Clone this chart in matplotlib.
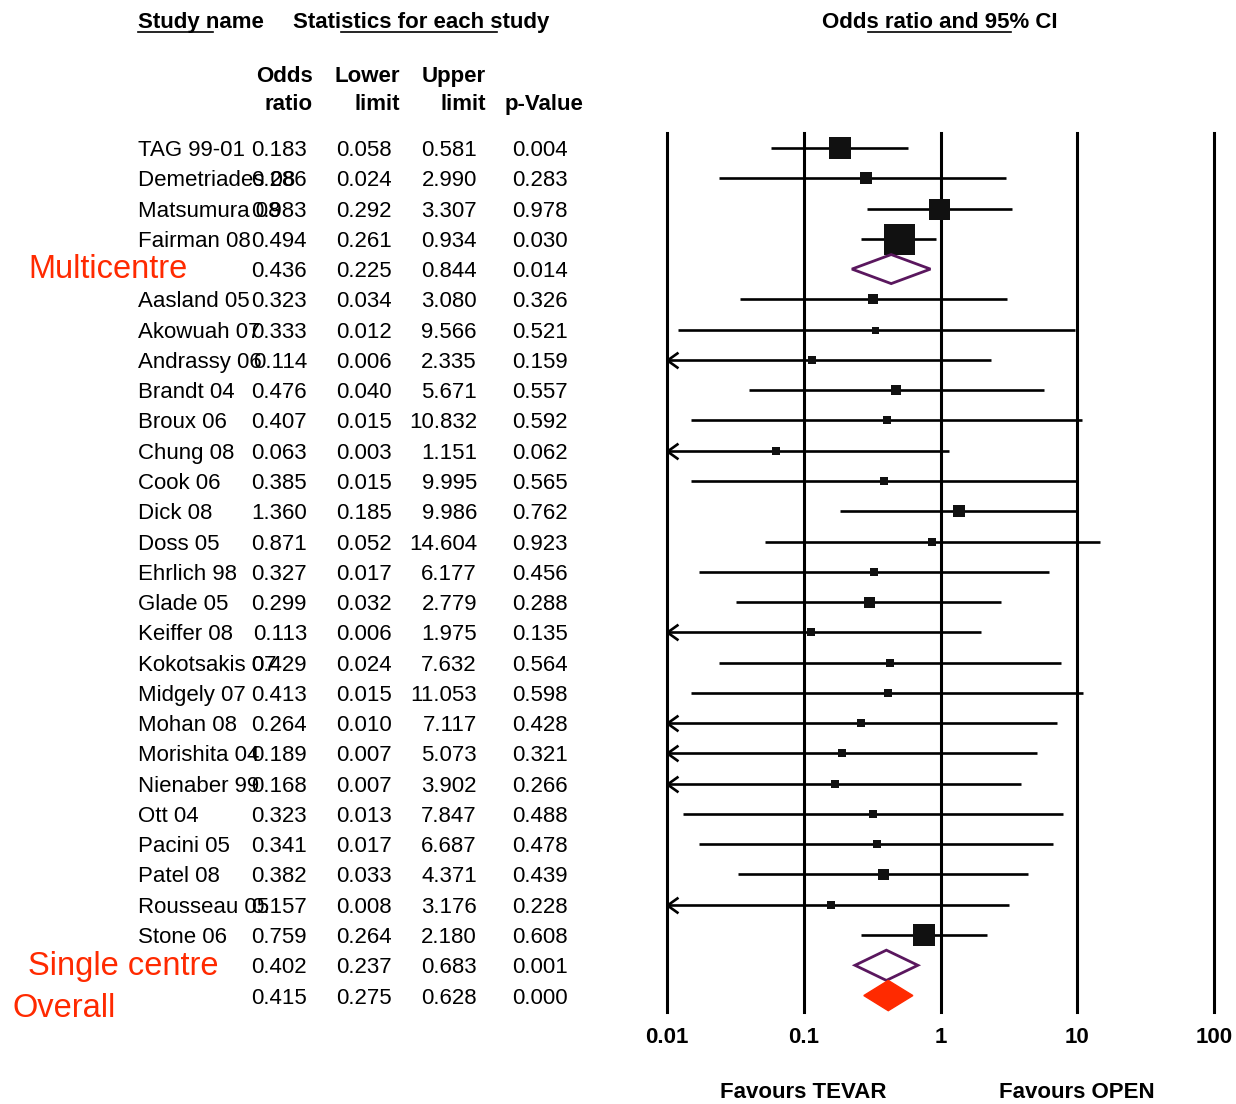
import matplotlib
matplotlib.use('Agg')
import matplotlib.pyplot as plt
from matplotlib.path import Path
from matplotlib.transforms import blended_transform_factory

plt.rcParams['font.family'] = ['Liberation Sans', 'DejaVu Sans']

# Study data (rows in display order; blank name = pooled row)
names = ['TAG 99-01', 'Demetriades 08', 'Matsumura 08', 'Fairman 08', '',
         'Aasland 05', 'Akowuah 07', 'Andrassy 06', 'Brandt 04', 'Broux 06',
         'Chung 08', 'Cook 06', 'Dick 08', 'Doss 05', 'Ehrlich 98', 'Glade 05',
         'Keiffer 08', 'Kokotsakis 07', 'Midgely 07', 'Mohan 08', 'Morishita 04',
         'Nienaber 99', 'Ott 04', 'Pacini 05', 'Patel 08', 'Rousseau 05',
         'Stone 06', '', '']
odds = [0.183, 0.286, 0.983, 0.494, 0.436, 0.323, 0.333, 0.114, 0.476, 0.407,
        0.063, 0.385, 1.360, 0.871, 0.327, 0.299, 0.113, 0.429, 0.413, 0.264,
        0.189, 0.168, 0.323, 0.341, 0.382, 0.157, 0.759, 0.402, 0.415]
lower = [0.058, 0.024, 0.292, 0.261, 0.225, 0.034, 0.012, 0.006, 0.040, 0.015,
         0.003, 0.015, 0.185, 0.052, 0.017, 0.032, 0.006, 0.024, 0.015, 0.010,
         0.007, 0.007, 0.013, 0.017, 0.033, 0.008, 0.264, 0.237, 0.275]
upper = [0.581, 2.990, 3.307, 0.934, 0.844, 3.080, 9.566, 2.335, 5.671, 10.832,
         1.151, 9.995, 9.986, 14.604, 6.177, 2.779, 1.975, 7.632, 11.053, 7.117,
         5.073, 3.902, 7.847, 6.687, 4.371, 3.176, 2.180, 0.683, 0.628]
pvals = [0.004, 0.283, 0.978, 0.030, 0.014, 0.326, 0.521, 0.159, 0.557, 0.592,
         0.062, 0.565, 0.762, 0.923, 0.456, 0.288, 0.135, 0.564, 0.598, 0.428,
         0.321, 0.266, 0.488, 0.478, 0.439, 0.228, 0.608, 0.001, 0.000]
# relative study weight -> square side in pixels
weights = [22, 12, 21, 31, 0, 10, 7, 8, 10, 8, 8, 8, 12, 8, 8, 11, 8, 8, 8, 8,
           8, 8, 8, 8, 11, 8, 22, 0, 0]

group_labels = ['Multicentre', 'Single centre', 'Overall']
group_rows = [4, 27, 28]

ticks = [0.01, 0.1, 1, 10, 100]
tick_labels = ['0.01', '0.1', '1', '10', '100']

RED = '#ff2a00'
PURPLE = '#5a175e'

W, H = 1236, 1104
fig = plt.figure(figsize=(W / 100, H / 100), dpi=100)

# Text table in pixel coordinates
tab = fig.add_axes([0, 0, 1, 1])
tab.set_xlim(0, W)
tab.set_ylim(H, 0)
tab.axis('off')

row0, step = 148, 30.27


def ry(i):
    return row0 + step * i


fs = 16
for i, (nm, o, lo, up, p) in enumerate(zip(names, odds, lower, upper, pvals)):
    yb = ry(i) + 8
    if nm:
        tab.text(138, yb, nm, ha='left', va='baseline', fontsize=fs)
    tab.text(307, yb, f'{o:.3f}', ha='right', va='baseline', fontsize=fs)
    tab.text(392, yb, f'{lo:.3f}', ha='right', va='baseline', fontsize=fs)
    tab.text(477, yb, f'{up:.3f}', ha='right', va='baseline', fontsize=fs)
    tab.text(568, yb, f'{p:.3f}', ha='right', va='baseline', fontsize=fs)

# red group labels
for lab, x, yb in zip(group_labels, [28, 28, 12], [278, 975, 1017]):
    tab.text(x, yb, lab, ha='left', va='baseline', fontsize=23.5, color=RED)

# headers
tab.text(138, 28, 'Study name', ha='left', va='baseline', fontsize=fs, fontweight='bold')
tab.text(293, 28, 'Statistics for each study', ha='left', va='baseline',
         fontsize=fs, fontweight='bold')
tab.text(940, 28, 'Odds ratio and 95% CI', ha='center', va='baseline',
         fontsize=fs, fontweight='bold')
for x0, x1 in [(138, 213), (341, 497), (868, 1011)]:
    tab.plot([x0, x1], [32, 32], color='black', lw=1.2)

for x, top, bot in [(313, 'Odds', 'ratio'), (400, 'Lower', 'limit'),
                    (486, 'Upper', 'limit'), (583, '', 'p-Value')]:
    if top:
        tab.text(x, 82, top, ha='right', va='baseline', fontsize=fs, fontweight='bold')
    tab.text(x, 110, bot, ha='right', va='baseline', fontsize=fs, fontweight='bold')

# Forest plot
top_px, bot_px, left_px, right_px = 133, 1012, 667, 1214
ax = fig.add_axes([left_px / W, 1 - bot_px / H, (right_px - left_px) / W,
                   (bot_px - top_px) / H])
ax.set_xscale('log')
ax.set_xlim(0.01, 100)
ax.set_ylim((bot_px - row0) / step, (top_px - row0) / step)
ax.axis('off')

for t in ticks:
    ax.axvline(t, color='black', lw=2.2, clip_on=False, zorder=1)

chevron = Path([(1.4, 1.0), (0, 0), (1.4, -1.0)],
               [Path.MOVETO, Path.LINETO, Path.LINETO])

for i, (nm, o, lo, up, w) in enumerate(zip(names, odds, lower, upper, weights)):
    if i in group_rows:
        continue
    ax.plot([max(lo, 0.01), up], [i, i], color='black', lw=1.9,
            solid_capstyle='butt', clip_on=False, zorder=2)
    if lo <= 0.01:
        ax.plot(0.01, i, marker=chevron, ms=15.8, mfc='none', mec='black',
                mew=1.9, clip_on=False, zorder=2)
    ax.plot(o, i, marker='s', ms=w * 0.72, color='#111111', mew=0, zorder=3)

# pooled diamonds
styles = [dict(fc='white', ec=PURPLE, lw=2.0, h=0.48),
          dict(fc='white', ec=PURPLE, lw=2.0, h=0.5),
          dict(fc=RED, ec=RED, lw=1.0, h=0.5)]
for r, st in zip(group_rows, styles):
    h = st['h']
    ax.fill([lower[r], odds[r], upper[r], odds[r]], [r, r - h, r, r + h],
            facecolor=st['fc'], edgecolor=st['ec'], lw=st['lw'], zorder=4,
            clip_on=False)

trans = blended_transform_factory(ax.transData, ax.transAxes)
for t, lab in zip(ticks, tick_labels):
    ax.text(t, -(1043 - bot_px) / (bot_px - top_px), lab, transform=trans,
            ha='center', va='baseline', fontsize=fs, fontweight='bold')
for t, lab in [(0.1, 'Favours TEVAR'), (10, 'Favours OPEN')]:
    ax.text(t, -(1098 - bot_px) / (bot_px - top_px), lab, transform=trans,
            ha='center', va='baseline', fontsize=fs, fontweight='bold')

fig.savefig('out.png', dpi=100)
